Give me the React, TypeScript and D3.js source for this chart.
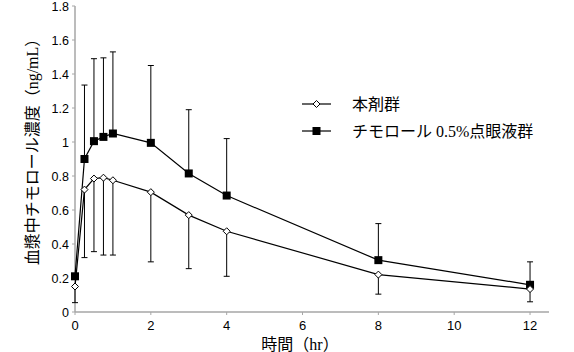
import React from 'react';
import * as d3 from 'd3';

// time points (hr)
const times = [0, 0.25, 0.5, 0.75, 1, 2, 3, 4, 8, 12];
// 本剤群: mean and lower end of error bar
const tabMean = [0.15, 0.72, 0.785, 0.79, 0.775, 0.705, 0.57, 0.475, 0.22, 0.135];
const tabLower = [0.055, 0.32, 0.355, 0.335, 0.335, 0.295, 0.255, 0.21, 0.105, 0.06];
// チモロール 0.5%点眼液群: mean and upper end of error bar
const solMean = [0.21, 0.9, 1.005, 1.03, 1.05, 0.995, 0.815, 0.685, 0.305, 0.16];
const solUpper = [0.21, 1.335, 1.49, 1.495, 1.53, 1.45, 1.19, 1.02, 0.52, 0.295];

const yTicks = [0, 0.2, 0.4, 0.6, 0.8, 1, 1.2, 1.4, 1.6, 1.8];
const xTicks = [0, 2, 4, 6, 8, 10, 12];
const legendLabels = ['本剤群', 'チモロール 0.5%点眼液群'];

const W = 574;
const H = 352;
const axisColor = '#a6a6a6';
const tickFont = 'Arial, "Liberation Sans", sans-serif';
const titleFont = '"Liberation Serif", "Noto Sans CJK JP", serif';

const App: React.FC = () => {
    const x = d3.scaleLinear().domain([0, 12.5]).range([75, 549]);
    const y = d3.scaleLinear().domain([0, 1.8]).range([312, 6]);

    const line = d3.line<number>()
        .x((d, i) => x(times[i]))
        .y((d) => y(d));

    const cap = 3;
    const diamond = (cx: number, cy: number, r: number) =>
        `M${cx},${cy - r}L${cx + r},${cy}L${cx},${cy + r}L${cx - r},${cy}Z`;

    return (
        <svg width={W} height={H} style={{position: 'absolute', left: 0, top: 0}}>
            <rect width={W} height={H} fill="#fff" />

            {/* upper error bars, solution group */}
            {times.map((t, i) => solUpper[i] > solMean[i] && (
                <g key={'su' + i} stroke="#000" strokeWidth={1}>
                    <line x1={x(t)} x2={x(t)} y1={y(solMean[i])} y2={y(solUpper[i])} />
                    <line x1={x(t) - cap} x2={x(t) + cap} y1={y(solUpper[i])} y2={y(solUpper[i])} />
                </g>
            ))}

            {/* axes */}
            <line x1={x(0)} x2={x(0)} y1={y(1.8)} y2={y(0)} stroke={axisColor} strokeWidth={1.5} />
            <line x1={x(0)} x2={549} y1={y(0)} y2={y(0)} stroke={axisColor} strokeWidth={1.5} />
            {yTicks.map((v) => (
                <g key={'yt' + v}>
                    <line x1={x(0) - 3} x2={x(0)} y1={y(v)} y2={y(v)} stroke={axisColor} />
                    <text x={69} y={y(v) + 4.5} textAnchor="end" fontFamily={tickFont} fontSize={12.5}>
                        {String(v)}
                    </text>
                </g>
            ))}
            {xTicks.map((v) => (
                <g key={'xt' + v}>
                    <line x1={x(v)} x2={x(v)} y1={y(0)} y2={y(0) + 3} stroke={axisColor} />
                    <text x={x(v)} y={330} textAnchor="middle" fontFamily={tickFont} fontSize={13}>
                        {v}
                    </text>
                </g>
            ))}

            {/* lower error bars, tablet group */}
            {times.map((t, i) => (
                <g key={'tl' + i} stroke="#000" strokeWidth={1}>
                    <line x1={x(t)} x2={x(t)} y1={y(tabMean[i])} y2={y(tabLower[i])} />
                    <line x1={x(t) - cap} x2={x(t) + cap} y1={y(tabLower[i])} y2={y(tabLower[i])} />
                </g>
            ))}

            <path d={line(solMean) || ''} fill="none" stroke="#000" strokeWidth={1.2} />
            <path d={line(tabMean) || ''} fill="none" stroke="#000" strokeWidth={1.2} />

            {times.map((t, i) => (
                <rect key={'sm' + i} x={x(t) - 4} y={y(solMean[i]) - 4} width={8} height={8} fill="#000" />
            ))}
            {times.map((t, i) => (
                <path key={'tm' + i} d={diamond(x(t), y(tabMean[i]), 3.5)} fill="#fff" stroke="#000" strokeWidth={1} />
            ))}

            {/* legend */}
            <g>
                <line x1={302} x2={331} y1={104} y2={104} stroke="#000" strokeWidth={1.2} />
                <path d={diamond(316.5, 104, 3.5)} fill="#fff" stroke="#000" strokeWidth={1} />
                <text x={352} y={104} dy="0.35em" fontFamily={titleFont} fontSize={16}>{legendLabels[0]}</text>
                <line x1={302} x2={331} y1={131} y2={131} stroke="#000" strokeWidth={1.2} />
                <rect x={312.5} y={127} width={8} height={8} fill="#000" />
                <text x={352} y={131} dy="0.35em" fontFamily={titleFont} fontSize={16}>{legendLabels[1]}</text>
            </g>

            {/* axis titles */}
            <text transform="translate(32,148) rotate(-90)" textAnchor="middle" dy="0.35em"
                  fontFamily={titleFont} fontSize={16}>
                血漿中チモロール濃度（ng/mL）
            </text>
            <text x={300} y={344} dy="0.35em" textAnchor="middle" fontFamily={titleFont} fontSize={16}>
                時間（hr）
            </text>
        </svg>
    );
};

export default App;
